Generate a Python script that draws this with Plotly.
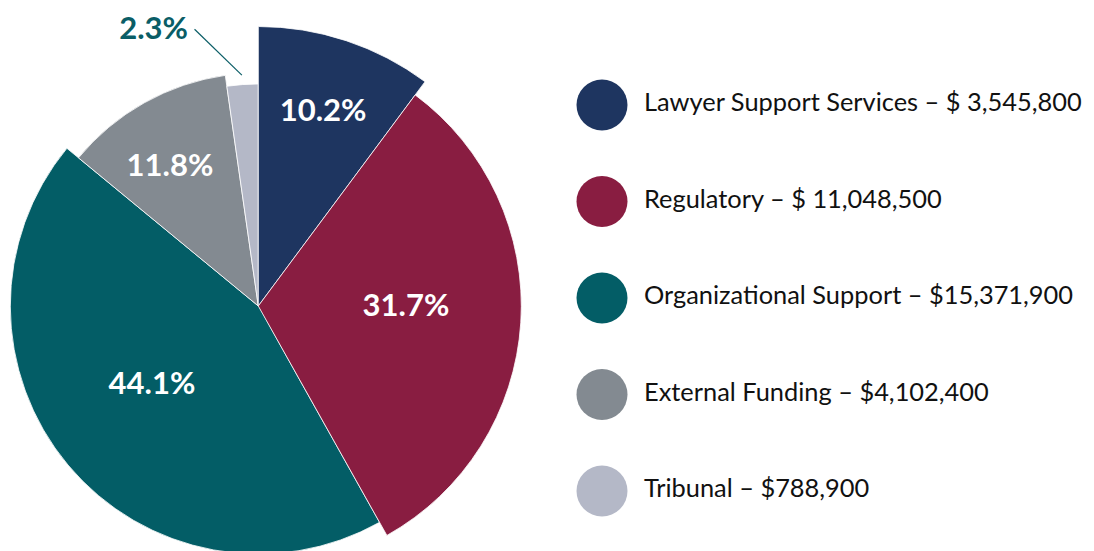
import math
import plotly.graph_objects as go

# ---- data ----
categories = ["Lawyer Support Services", "Regulatory", "Organizational Support",
              "External Funding", "Tribunal"]
amounts = [3545800, 11048500, 15371900, 4102400, 788900]
pct_labels = ["10.2%", "31.7%", "44.1%", "11.8%", "2.3%"]
legend_labels = ["Lawyer Support Services – $ 3,545,800",
                 "Regulatory – $ 11,048,500",
                 "Organizational Support – $15,371,900",
                 "External Funding – $4,102,400",
                 "Tribunal – $788,900"]

# ---- style ----
colors = ["#1E3560", "#891D41", "#035D66", "#838A91", "#B4B8C7"]
slice_r = [279.5, 263, 248, 233, 222]        # each wedge drawn with its own radius
label_r = [203.1, 147.7, 133.3, 163.4]
label_dtheta = [0.3, -2.7, 2.8, -3.4]
FONT = "Lato"
TEAL_TXT = "#0A5D66"

W, H = 1086, 560            # page body adds an 8px margin; bottom runs past the window
cx, cy = 250.3, 298         # pie centre in figure pixels

total = sum(amounts)
widths = [a / total * 360 for a in amounts]
mids = []
acc = 0
for w in widths:
    mids.append(acc + w / 2)
    acc += w

fig = go.Figure()

# polar 1: full circle (slices 3-5)
R1 = 250
big = [0, 1]      # lawyer, regulatory -> polar2
small = [2, 3, 4]
fig.add_trace(go.Barpolar(
    r=[slice_r[i] for i in small], theta=[mids[i] for i in small],
    width=[widths[i] for i in small],
    marker=dict(color=[colors[i] for i in small], line=dict(color="white", width=0.8)),
    hoverinfo="skip", showlegend=False, subplot="polar",
))
fig.add_trace(go.Scatterpolar(
    r=[label_r[2], label_r[3]], theta=[mids[2] + label_dtheta[2], mids[3] + label_dtheta[3]],
    mode="text", text=[pct_labels[2], pct_labels[3]],
    textfont=dict(family=FONT, size=31, color="white", weight="bold"),
    cliponaxis=False, hoverinfo="skip", showlegend=False, subplot="polar",
))

# polar 2: partial sector holding the two larger wedges and the outside label
R2 = 290
fig.add_trace(go.Barpolar(
    r=[slice_r[i] for i in big], theta=[mids[i] for i in big],
    width=[widths[i] for i in big],
    marker=dict(color=[colors[i] for i in big], line=dict(color="white", width=0.8)),
    hoverinfo="skip", showlegend=False, subplot="polar2",
))
fig.add_trace(go.Scatterpolar(
    r=[label_r[0], label_r[1]], theta=[mids[0] + label_dtheta[0], mids[1] + label_dtheta[1]],
    mode="text", text=[pct_labels[0], pct_labels[1]],
    textfont=dict(family=FONT, size=31, color="white", weight="bold"),
    cliponaxis=False, hoverinfo="skip", showlegend=False, subplot="polar2",
))
fig.add_trace(go.Scatterpolar(
    r=[slice_r[4] + 9.5, 284], theta=[mids[4], mids[4] - 8.9], mode="lines",
    line=dict(color=TEAL_TXT, width=1.2),
    cliponaxis=False, hoverinfo="skip", showlegend=False, subplot="polar2",
))
fig.add_trace(go.Scatterpolar(
    r=[283.3], theta=[mids[4] - 10.3], mode="text", text=[pct_labels[4]],
    textposition="middle left",
    textfont=dict(family=FONT, size=31, color=TEAL_TXT, weight="bold"),
    cliponaxis=False, hoverinfo="skip", showlegend=False, subplot="polar2",
))

# legend replica
idx = list(range(len(categories)))
fig.add_trace(go.Scatter(
    x=[51] * len(idx), y=idx, mode="markers",
    marker=dict(size=51, color=colors, line=dict(width=0)),
    hoverinfo="skip", showlegend=False,
))
fig.add_trace(go.Scatter(
    x=[93] * len(idx), y=idx, mode="text", text=legend_labels,
    textposition="middle right",
    textfont=dict(family=FONT, size=25.4, color="#111111"),
    hoverinfo="skip", showlegend=False, cliponaxis=False,
))

# sector geometry for polar2 (screen angles, counter-clockwise from east)
sector = [-61.5, 130]
xs0 = min(math.cos(math.radians(sector[0])), math.cos(math.radians(sector[1])), 0)
ys0 = min(math.sin(math.radians(sector[0])), math.sin(math.radians(sector[1])), 0)
p2_left, p2_right = cx + xs0 * R2, cx + R2
p2_top, p2_bottom = cy - R2, cy - ys0 * R2

row0_px, row_gap = 97, 96.5
y_top = -row0_px / row_gap
y_bot = y_top + H / row_gap

axis_off = dict(direction="clockwise", rotation=90, visible=False, showgrid=False)
fig.update_layout(
    width=W, height=H,
    margin=dict(l=0, r=0, t=0, b=0),
    paper_bgcolor="white", plot_bgcolor="white",
    showlegend=False,
    polar=dict(
        domain=dict(x=[(cx - R1) / W, (cx + R1) / W],
                    y=[(H - (cy + R1)) / H, (H - (cy - R1)) / H]),
        bgcolor="rgba(0,0,0,0)",
        radialaxis=dict(range=[0, R1], visible=False, showgrid=False),
        angularaxis=axis_off,
    ),
    polar2=dict(
        domain=dict(x=[p2_left / W, p2_right / W],
                    y=[(H - p2_bottom) / H, (H - p2_top) / H]),
        sector=sector,
        bgcolor="rgba(0,0,0,0)",
        radialaxis=dict(range=[0, R2], visible=False, showgrid=False),
        angularaxis=axis_off,
    ),
    xaxis=dict(domain=[0.5, 1], range=[0, 543], visible=False, fixedrange=True),
    yaxis=dict(domain=[0, 1], range=[y_bot, y_top], visible=False, fixedrange=True),
)

fig.write_html("out.html")
